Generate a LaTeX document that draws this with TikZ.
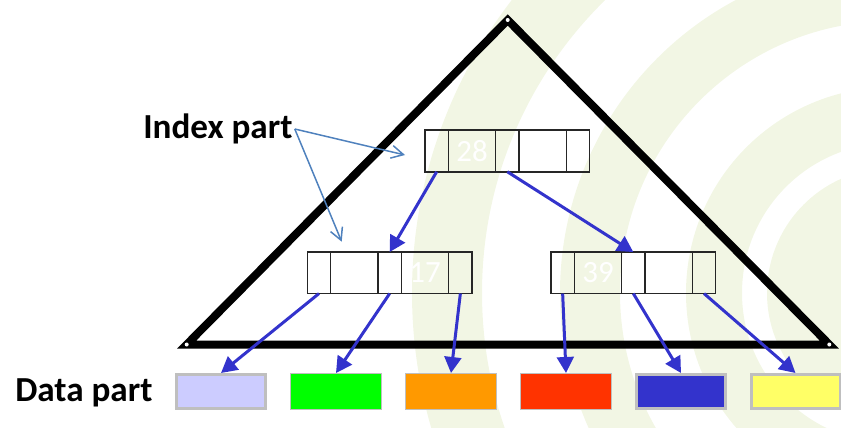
\documentclass[tikz,border=0pt]{standalone}
\usepackage{fontspec}
\setmainfont{Carlito}
\usetikzlibrary{arrows.meta, positioning}

\begin{document}
\begin{tikzpicture}[
  ptr_cell/.style={draw=black!85, line width=0.037500cm, minimum width=0.582500cm, minimum height=1.037500cm, inner sep=0cm, outer sep=0cm},
  key_cell/.style={ptr_cell, minimum width=1.185000cm, text=white, font=\fontsize{22}{26}\selectfont},
  data_box/.style={draw=border_color, line width=0.025000cm, minimum width=2.275000cm, minimum height=0.900000cm, inner sep=0cm},
  thick_box/.style={data_box, line width=0.075000cm, minimum width=2.225000cm, minimum height=0.850000cm},
  ptr_arrow/.style={line width=0.075000cm, draw=arrow_color, -{Triangle[length=0.400000cm, width=0.420000cm]}},
  label_arrow/.style={line width=0.037500cm, draw=label_arrow_color, -{Straight Barb[length=0.300000cm, width=0.320000cm]}},
  part_label/.style={font=\fontsize{25}{30}\selectfont\bfseries, inner sep=0.050000cm, anchor=west}
]
\definecolor{watermark_color}{RGB}{242,246,228}
\definecolor{border_color}{RGB}{191,191,191}
\definecolor{arrow_color}{RGB}{51,51,204}
\definecolor{label_arrow_color}{RGB}{79,129,189}
\definecolor{lavender_color}{RGB}{204,204,255}
\definecolor{green_color}{RGB}{0,255,0}
\definecolor{orange_color}{RGB}{255,153,0}
\definecolor{red_color}{RGB}{255,51,0}
\definecolor{blue_color}{RGB}{51,51,204}
\definecolor{yellow_color}{RGB}{255,255,102}

\useasboundingbox (0,0) rectangle (21.025000, 10.675000);

\begin{scope}
\clip (0,0) rectangle (21.025000, 10.675000);
\draw[watermark_color, line width=1.750000cm] (22.300000, 3.350000) circle (11.125000);
\draw[watermark_color, line width=1.500000cm] (22.300000, 3.350000) circle (7.550000);
\draw[watermark_color, line width=1.400000cm] (22.300000, 3.350000) circle (4.450000);
\fill[watermark_color] (22.300000, 3.350000) circle (3.125000);
\end{scope}

\coordinate (apex) at (12.692500, 10.175000);
\coordinate (base_left) at (4.667500, 2.062500);
\coordinate (base_right) at (20.732500, 2.062500);
\draw[line width=0.200000cm] (apex) -- (base_left) -- (base_right) -- cycle;
\fill[white] (apex) circle (0.050000);
\fill[white] (base_left) circle (0.050000);
\fill[white] (base_right) circle (0.050000);

\node[ptr_cell, anchor=west] (r1) at (10.625000, 6.900000) {};
\node[key_cell, right=0cm of r1] (r2) {28};
\node[ptr_cell, right=0cm of r2] (r3) {};
\node[key_cell, right=0cm of r3] (r4) {};
\node[ptr_cell, right=0cm of r4] (r5) {};

\node[ptr_cell, anchor=west] (a1) at (7.682500, 3.855000) {};
\node[key_cell, right=0cm of a1] (a2) {};
\node[ptr_cell, right=0cm of a2] (a3) {};
\node[key_cell, right=0cm of a3] (a4) {17};
\node[ptr_cell, right=0cm of a4] (a5) {};

\node[ptr_cell, anchor=west] (b1) at (13.775000, 3.855000) {};
\node[key_cell, right=0cm of b1] (b2) {39};
\node[ptr_cell, right=0cm of b2] (b3) {};
\node[key_cell, right=0cm of b3] (b4) {51};
\node[ptr_cell, right=0cm of b4] (b5) {};

\node[thick_box, fill=lavender_color] (d1) at (5.525000, 0.887500) {};
\node[data_box, fill=green_color] (d2) at (8.400000, 0.887500) {};
\node[data_box, fill=orange_color] (d3) at (11.275000, 0.887500) {};
\node[data_box, fill=red_color] (d4) at (14.150000, 0.887500) {};
\node[thick_box, fill=blue_color] (d5) at (17.025000, 0.887500) {};
\node[thick_box, fill=yellow_color] (d6) at (19.887500, 0.887500) {};

\node[part_label] (index_label) at (3.525000, 7.450000) {Index part};
\node[part_label] (data_label) at (0.325000, 0.850000) {Data part};

\coordinate (index_tip_root) at (10.125000, 6.800000);
\coordinate (index_tip_leaf) at (8.542500, 4.632500);
\draw[label_arrow] (index_label.east) -- (index_tip_root);
\draw[label_arrow] (index_label.east) -- (index_tip_leaf);

\draw[ptr_arrow] (r1.south) -- (a3.north);
\draw[ptr_arrow] (r3.south) -- (b3.north);

\draw[ptr_arrow] (a1.south) -- (d1.north);
\draw[ptr_arrow] (a3.south) -- (d2.north);
\draw[ptr_arrow] (a5.south) -- (d3.north);
\draw[ptr_arrow] (b1.south) -- (d4.north);
\draw[ptr_arrow] (b3.south) -- (d5.north);
\draw[ptr_arrow] (b5.south) -- (d6.north);

\end{tikzpicture}
\end{document}
